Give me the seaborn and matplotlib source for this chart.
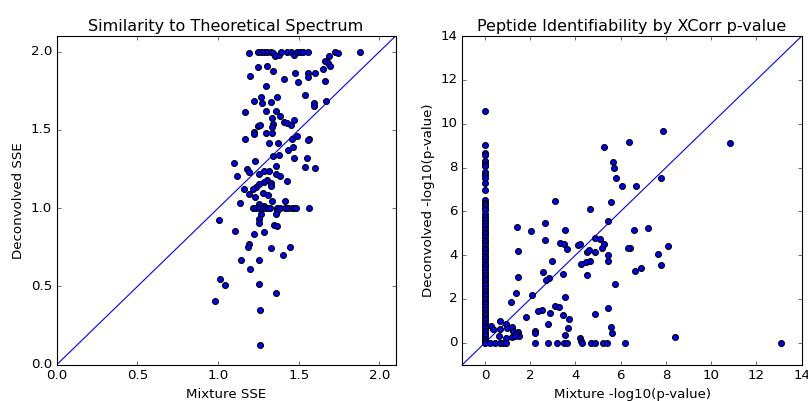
import matplotlib
matplotlib.use("Agg")
import matplotlib.pyplot as plt
import seaborn as sns
import pandas as pd

# ---- Left panel: SSE values ----
sse_mix = [1.19, 1.246, 1.265, 1.285, 1.304, 1.327, 1.343, 1.353, 1.38, 1.391, 1.426, 1.451, 1.471, 1.488,
           1.508, 1.525, 1.56, 1.725, 1.746, 1.88, 1.69,
           1.665, 1.68, 1.694, 1.248, 1.302, 1.341, 1.197, 1.475, 1.556, 1.60, 1.649, 1.56, 1.411, 1.496, 1.663,
           1.30, 1.541, 1.267, 1.223, 1.273, 1.329, 1.366, 1.595, 1.593, 1.668, 1.167, 1.298, 1.361, 1.383,
           1.333, 1.471, 1.407, 1.426, 1.453, 1.341, 1.335, 1.25, 1.262, 1.223, 1.223, 1.296, 1.333, 1.167,
           1.318, 1.372, 1.461, 1.492, 1.564, 1.56, 1.465, 1.432, 1.339, 1.38, 1.471, 1.552, 1.097, 1.229,
           1.361, 1.539, 1.60, 1.18, 1.19, 1.118, 1.252, 1.285, 1.318, 1.358, 1.386, 1.426, 1.306, 1.285,
           1.33, 1.327, 1.252, 1.236, 1.161, 1.192, 1.219, 1.277, 1.308, 1.229, 1.335, 1.417, 1.136, 1.254,
           1.287, 1.219, 1.236, 1.256, 1.271, 1.292, 1.308, 1.322, 1.364, 1.385, 1.415, 1.436, 1.457, 1.471,
           1.484, 1.566, 1.368, 1.36, 1.267, 1.256, 1.252, 1.004, 1.347, 1.368, 1.107, 1.221, 1.285, 1.192,
           1.186, 1.329, 1.445, 1.405, 1.143, 1.256, 1.197, 1.011, 1.042, 1.256, 1.36, 0.983, 1.262, 1.26]
sse_dec = [1.99, 2.0, 2.0, 2.0, 2.0, 2.0, 1.99, 1.975, 1.98, 2.0, 2.0, 2.0, 1.98, 2.0,
           2.0, 2.0, 2.0, 2.0, 1.99, 2.0, 1.975,
           1.94, 1.928, 1.91, 1.90, 1.91, 1.877, 1.843, 1.866, 1.862, 1.866, 1.887, 1.836, 1.825, 1.806, 1.814,
           1.782, 1.725, 1.712, 1.683, 1.674, 1.676, 1.712, 1.674, 1.653, 1.685, 1.614, 1.622, 1.621, 1.589,
           1.574, 1.561, 1.548, 1.544, 1.529, 1.537, 1.516, 1.525, 1.529, 1.484, 1.472, 1.48, 1.48, 1.441,
           1.418, 1.42, 1.441, 1.461, 1.443, 1.433, 1.392, 1.369, 1.335, 1.339, 1.322, 1.324, 1.29, 1.301,
           1.269, 1.264, 1.254, 1.248, 1.232, 1.207, 1.216, 1.235, 1.235, 1.219, 1.205, 1.171, 1.181, 1.168,
           1.158, 1.139, 1.155, 1.136, 1.122, 1.094, 1.12, 1.098, 1.083, 1.072, 1.049, 1.047, 1.032, 1.03,
           1.017, 1.0, 1.0, 1.0, 1.0, 1.0, 1.0, 1.0, 1.0, 1.0, 1.0, 1.0, 1.0, 1.0,
           1.0, 1.0, 0.981, 0.964, 0.966, 0.93, 0.904, 0.923, 0.891, 0.887, 0.853, 0.838, 0.846, 0.77,
           0.75, 0.746, 0.755, 0.701, 0.667, 0.669, 0.61, 0.546, 0.507, 0.516, 0.458, 0.407, 0.352, 0.125]

# ---- Right panel: -log10(p-value) ----
pv_col = [10.59, 9.03, 8.65, 8.55, 8.32, 8.14, 8.05, 7.79, 7.68, 7.51, 7.29, 6.99, 6.5, 6.38, 6.27, 6.17,
          6.05, 5.9, 5.74, 5.59, 5.45, 5.33, 5.2, 5.08, 4.95, 4.83, 4.7, 4.6, 4.47, 4.35, 4.22, 4.1, 3.98,
          3.85, 3.72, 3.6, 3.49, 3.36, 3.24, 3.1, 2.98, 2.86, 2.74, 2.62, 2.5, 2.37, 2.25, 2.12, 2.0, 1.88,
          1.75, 1.63, 1.5, 1.38, 1.27, 1.14, 1.02, 0.9, 0.77, 0.66, 0.54, 0.42, 0.3, 0.18, 0.08, 0.0]
pv_mix_other = [5.25, 6.35, 5.66, 5.70, 5.78, 6.07, 6.66, 3.08, 4.63, 5.58, 5.44, 1.41, 2.67, 3.52, 6.57, 2.05,
                7.88, 10.82, 7.77, 7.21, 6.41, 8.08, 7.66, 7.77, 6.65, 6.91, 8.40, 13.09,
                2.67, 3.30, 3.48, 3.64, 4.11, 4.21, 4.86, 5.10, 5.25, 5.19, 6.32, 1.46, 4.52, 4.58, 4.86, 5.45,
                5.45, 2.98, 4.64, 4.48, 4.26, 2.58, 3.43, 2.83, 2.71, 4.51, 5.73, 1.45, 1.36, 1.15, 2.06, 3.55,
                1.83, 3.09, 3.27, 2.52, 2.36, 2.89, 3.43, 3.73, 4.88, 5.45, 2.79, 3.68, 5.56, 5.63, 2.21, 2.21,
                3.52, 4.19, 4.26,
                0.25, 0.37, 0.66, 0.66, 0.92, 0.97, 1.21, 1.25, 1.46, 1.49, 1.38, 0.62, 0.94, 1.19, 1.33,
                0.22, 0.44, 0.66, 0.81, 0.93, 2.21, 2.77, 3.2, 3.49, 3.61, 4.27, 4.69, 4.86, 5.2, 5.41, 6.19]
pv_dec_other = [8.92, 9.15, 8.24, 7.99, 7.51, 7.14, 7.14, 6.47, 6.09, 6.42, 5.56, 5.29, 5.49, 5.17, 5.14, 5.1,
                9.68, 9.1, 7.51, 5.24, 4.33, 4.42, 4.06, 3.56, 3.29, 3.42, 0.27, 0.0,
                4.68, 4.56, 4.49, 4.26, 4.45, 4.53, 4.80, 4.74, 4.5, 4.32, 4.35, 4.17, 4.15, 4.23, 4.14, 4.01,
                3.74, 3.74, 3.74, 3.7, 3.58, 3.24, 3.14, 2.94, 2.86, 3.09, 2.70, 3.01, 2.29, 1.85, 2.2, 2.08,
                1.17, 1.68, 1.65, 1.51, 1.45, 1.36, 1.27, 1.08, 1.30, 1.59, 0.88, 0.67, 0.71, 0.44, 0.55, 0.44,
                0.35, 0.2, 0.1,
                0.77, 0.65, 1.01, 0.62, 0.86, 0.67, 0.71, 0.56, 0.51, 0.29, 0.40, 0.29, 0.21, 0.26, 0.29,
                0.0, 0.0, 0.0, 0.0, 0.0, 0.0, 0.0, 0.0, 0.0, 0.0, 0.0, 0.0, 0.0, 0.0, 0.0, 0.0]

pv_mix = [0.0] * len(pv_col) + pv_mix_other
pv_dec = pv_col + pv_dec_other

left_df = pd.DataFrame({"mix": sse_mix, "dec": sse_dec})
right_df = pd.DataFrame({"mix": pv_mix, "dec": pv_dec})

plt.style.use("classic")
plt.rcParams["font.family"] = ["DejaVu Sans"]

fig = plt.figure(figsize=(10.1, 5.0125), dpi=80, facecolor="white")
ax1 = fig.add_axes([0.0702, 0.0905, 0.4193, 0.8195])
ax2 = fig.add_axes([0.5722, 0.0905, 0.4200, 0.8195])

for ax, df, lim, ticks, fmt in [
    (ax1, left_df, (0.0, 2.1), [0.0, 0.5, 1.0, 1.5, 2.0], "{:.1f}"),
    (ax2, right_df, (-1, 14), list(range(0, 15, 2)), "{:d}"),
]:
    ax.plot(lim, lim, color="blue", linewidth=1.0, zorder=1)
    sns.scatterplot(data=df, x="mix", y="dec", ax=ax, color="blue", edgecolor="black",
                    linewidth=1.0, s=28, zorder=3, legend=False)
    ax.set_xlim(*lim)
    ax.set_ylim(*lim)
    ax.set_xticks(ticks)
    ax.set_yticks(ticks)
    ax.set_xticklabels([fmt.format(t) for t in ticks])
    ax.set_yticklabels([fmt.format(t) for t in ticks])
    ax.tick_params(direction="in", top=True, right=True, labelsize=12)

ax1.set_title("Similarity to Theoretical Spectrum", fontsize=14.4)
ax1.set_xlabel("Mixture SSE", fontsize=12)
ax1.set_ylabel("Deconvolved SSE", fontsize=12)
ax2.set_title("Peptide Identifiability by XCorr p-value", fontsize=14.4)
ax2.set_xlabel("Mixture -log10(p-value)", fontsize=12)
ax2.set_ylabel("Deconvolved -log10(p-value)", fontsize=12)

fig.savefig("out.png", dpi=80, facecolor="white")
